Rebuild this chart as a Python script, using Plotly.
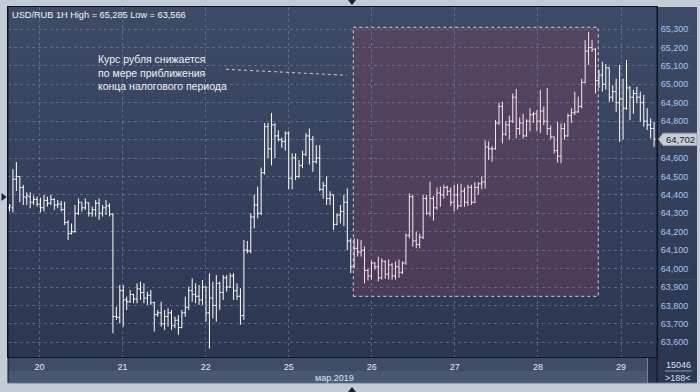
import plotly.graph_objects as go

# ---------------- data ----------------
title_text = "USD/RUB 1H High = 65,285 Low = 63,566"
day_labels = ["20", "21", "22", "25", "26", "27", "28", "29"]
month_label = "мар.2019"
note_lines = ["Курс рубля снижается", "по мере приближения", "конца налогового периода"]
last_price = 64702
last_price_label = "64,702"
price_ticks = list(range(63600, 65301, 100))
footer_top = "15046"
footer_bottom = ">188<"

opens = [
    64330, 64330, 64485, 64500, 64440, 64385, 64390, 64360, 64375, 64350,
    64330, 64370, 64355, 64375, 64345, 64350, 64320, 64250, 64190, 64200,
    64300, 64360, 64330, 64355, 64300, 64320, 64355, 64300, 64330, 64340,
    64295, 63740, 63735, 63880, 63830, 63820, 63860, 63835, 63890, 63870,
    63840, 63855, 63815, 63750, 63760, 63700, 63740, 63760, 63690, 63720,
    63680, 63760, 63790, 63880, 63860, 63850, 63830, 63900, 63760, 63840,
    63800, 63920, 63870, 63950, 63900, 63960, 63880, 63850, 63745, 64100,
    64095, 64280, 64345, 64300, 64520, 64770, 64650, 64780, 64720, 64700,
    64690, 64735, 64490, 64600, 64500, 64560, 64620, 64720, 64700, 64580,
    64600, 64430, 64450, 64380, 64400, 64240, 64290, 64310, 64360, 64150,
    64010, 64110, 64090, 64100, 63990, 63960, 64030, 64010, 63950, 64040,
    63970, 64020, 63960, 64010, 63980, 64030, 64180, 64390, 64150, 64130,
    64170, 64380, 64300, 64380, 64330, 64410, 64400, 64440, 64420, 64360,
    64400, 64340, 64420, 64360, 64440, 64360, 64440, 64460, 64470, 64660,
    64650, 64650, 64790, 64880, 64730, 64780, 64800, 64930, 64760, 64790,
    64720, 64800, 64835, 64840, 64800, 64855, 64800, 64760, 64715, 64640,
    64610, 64760, 64720, 64830, 64845, 64850, 64880, 65010, 65180, 65200,
    65190, 65020, 65050, 65000, 65090, 64930, 64960, 64900, 64920, 64870,
    64980, 64930, 64950, 64930, 64900, 64800, 64780, 64760,
]
highs = [
    64350, 64540, 64578, 64500, 64454, 64414, 64414, 64396, 64390, 64385,
    64400, 64390, 64400, 64381, 64372, 64367, 64363, 64263, 64245, 64345,
    64381, 64360, 64381, 64360, 64336, 64372, 64381, 64345, 64372, 64354,
    64300, 63793, 63911, 63911, 63848, 63884, 63862, 63920, 63929, 63920,
    63875, 63884, 63820, 63775, 63820, 63775, 63785, 63775, 63739, 63748,
    63775, 63848, 63902, 63947, 63920, 63911, 63938, 63905, 63974, 63929,
    63965, 63930, 63965, 63965, 63975, 63975, 63920, 63893, 64155, 64150,
    64300, 64400, 64445, 64548, 64790, 64790, 64845, 64790, 64750, 64710,
    64745, 64745, 64625, 64625, 64590, 64640, 64735, 64760, 64720, 64670,
    64670, 64470, 64500, 64420, 64400, 64300, 64345, 64400, 64435, 64165,
    64165, 64160, 64155, 64120, 64000, 64045, 64035, 64065, 64055, 64045,
    64050, 64030, 64040, 64050, 64040, 64191, 64408, 64400, 64200, 64190,
    64399, 64400, 64472, 64395, 64440, 64445, 64455, 64450, 64440, 64455,
    64460, 64460, 64440, 64455, 64455, 64470, 64470, 64500, 64697, 64690,
    64665, 64806, 64900, 64905, 64800, 64830, 64950, 64975, 64820, 64840,
    64810, 64870, 64850, 64860, 64970, 64880, 64980, 64775, 64716, 64797,
    64788, 64790, 64842, 64870, 64960, 64933, 65030, 65240, 65285, 65240,
    65195, 65080, 65122, 65110, 65090, 64995, 65030, 65105, 65030, 65132,
    64990, 64970, 64987, 64960, 64942, 64870, 64815, 64797,
]
lows = [
    64310, 64305, 64421, 64360, 64345, 64345, 64327, 64345, 64336, 64305,
    64310, 64336, 64345, 64318, 64327, 64309, 64236, 64155, 64185, 64195,
    64291, 64309, 64318, 64282, 64282, 64282, 64264, 64282, 64291, 64282,
    63649, 63721, 63703, 63685, 63775, 63815, 63812, 63812, 63830, 63812,
    63803, 63803, 63658, 63739, 63685, 63667, 63685, 63667, 63676, 63640,
    63676, 63739, 63775, 63820, 63812, 63803, 63803, 63712, 63566, 63730,
    63712, 63775, 63830, 63875, 63895, 63830, 63830, 63695, 63721, 64083,
    64083, 64218, 64273, 64290, 64510, 64600, 64560, 64600, 64690, 64655,
    64640, 64430, 64430, 64480, 64490, 64545, 64610, 64565, 64525, 64570,
    64420, 64380, 64345, 64345, 64210, 64235, 64245, 64230, 64100, 63975,
    64000, 64065, 64065, 63920, 63935, 63940, 63995, 63930, 63940, 63945,
    63940, 63940, 63940, 63950, 63970, 64020, 64164, 64119, 64110, 64110,
    64160, 64290, 64282, 64260, 64320, 64335, 64380, 64395, 64340, 64310,
    64320, 64335, 64335, 64340, 64345, 64355, 64400, 64430, 64435, 64590,
    64580, 64645, 64780, 64680, 64720, 64700, 64790, 64707, 64725, 64705,
    64715, 64745, 64790, 64745, 64735, 64780, 64725, 64700, 64625, 64575,
    64571, 64700, 64715, 64790, 64833, 64845, 64870, 65005, 65105, 65175,
    64950, 64980, 64960, 64970, 64906, 64905, 64850, 64689, 64700, 64861,
    64806, 64840, 64897, 64797, 64770, 64752, 64707, 64660,
]
closes = [
    64340, 64485, 64500, 64440, 64390, 64395, 64360, 64375, 64350, 64330,
    64370, 64355, 64375, 64345, 64350, 64320, 64250, 64190, 64200, 64300,
    64360, 64330, 64360, 64300, 64320, 64355, 64300, 64330, 64340, 64295,
    63740, 63735, 63880, 63830, 63820, 63860, 63835, 63890, 63870, 63840,
    63855, 63815, 63750, 63760, 63700, 63740, 63760, 63690, 63720, 63680,
    63760, 63790, 63880, 63860, 63850, 63830, 63900, 63760, 63840, 63800,
    63920, 63870, 63950, 63900, 63960, 63880, 63850, 63745, 64100, 64095,
    64280, 64345, 64300, 64520, 64770, 64650, 64780, 64720, 64700, 64690,
    64735, 64490, 64600, 64500, 64560, 64620, 64720, 64700, 64580, 64600,
    64430, 64450, 64380, 64400, 64240, 64290, 64310, 64360, 64150, 64010,
    64110, 64090, 64100, 63990, 63960, 64030, 64010, 63950, 64040, 63970,
    64020, 63960, 64010, 63980, 64030, 64180, 64390, 64150, 64130, 64170,
    64380, 64300, 64380, 64330, 64410, 64400, 64440, 64420, 64360, 64400,
    64340, 64420, 64360, 64440, 64360, 64440, 64460, 64470, 64660, 64650,
    64650, 64790, 64880, 64730, 64780, 64800, 64930, 64760, 64790, 64720,
    64800, 64835, 64840, 64800, 64855, 64800, 64760, 64715, 64640, 64610,
    64760, 64720, 64830, 64845, 64850, 64880, 65010, 65180, 65200, 65190,
    65020, 65050, 65000, 65090, 64930, 64960, 64900, 64920, 64870, 64980,
    64930, 64950, 64930, 64900, 64800, 64780, 64760, 64702,
]

# ---------------- layout geometry (pixels) ----------------
W, H = 700, 392
PL, PR, PT, PB = 8, 657, 7, 357          # plot area
BAR0_PX, BAR_STEP = 9.5, 3.447            # pixel of first bar, bar spacing
FIRST_DAY_BAR, BARS_PER_DAY = 8.7, 24.1   # day grid positions (in bars)
V_REF, Y_REF, PX_PER_100 = 65300, 29.0, 18.43


def px(x):
    return (x - PL) / (PR - PL)


def py(y):
    return (PB - y) / (PB - PT)


def bar_of_px(p):
    return (p - BAR0_PX) / BAR_STEP


def val_of_py(y):
    return V_REF - (y - Y_REF) * 100.0 / PX_PER_100


def py_of_val(v):
    return Y_REF + (V_REF - v) * PX_PER_100 / 100.0


n = len(opens)
idx = list(range(n))
HL_X0, HL_X1, HL_Y0, HL_Y1 = 353.3, 598.3, 27.3, 296.3
inside = [i for i in idx if HL_X0 <= BAR0_PX + BAR_STEP * i <= HL_X1]
outside = [i for i in idx if i not in inside]

FONT = "Liberation Sans, Arial, sans-serif"


def ohlc(sel, color):
    return go.Ohlc(
        x=sel,
        open=[opens[i] for i in sel],
        high=[highs[i] for i in sel],
        low=[lows[i] for i in sel],
        close=[closes[i] for i in sel],
        increasing=dict(line=dict(color=color, width=1)),
        decreasing=dict(line=dict(color=color, width=1)),
        tickwidth=0.45,
        hoverinfo="skip",
        showlegend=False,
    )


fig = go.Figure([ohlc(outside, "#ffffff"), ohlc(inside, "#ffe4ec")])

shapes = []


def rect(x0, y0, x1, y1, color, layer="below"):
    shapes.append(dict(type="rect", xref="paper", yref="paper",
                       x0=px(x0), x1=px(x1), y0=py(y1), y1=py(y0),
                       fillcolor=color, line=dict(width=0), layer=layer))


def line(x0, y0, x1, y1, color, width=1, dash="solid", layer="above"):
    shapes.append(dict(type="line", xref="paper", yref="paper",
                       x0=px(x0), x1=px(x1), y0=py(y0), y1=py(y1),
                       line=dict(color=color, width=width, dash=dash), layer=layer))


def tri(points, color):
    path = "M " + " L ".join(f"{px(a):.5f},{py(b):.5f}" for a, b in points) + " Z"
    shapes.append(dict(type="path", xref="paper", yref="paper", path=path,
                       fillcolor=color, line=dict(width=0), layer="above"))


# vertical gradient of the dark chart background (plot + right scale)
top_c, bot_c = (62, 75, 103), (44, 55, 82)
bands = 36
for k in range(bands):
    y0 = PT + (PB - PT) * k / bands
    y1 = PT + (PB - PT) * (k + 1) / bands + 0.6
    t = (k + 0.5) / bands
    c = tuple(round(top_c[j] + (bot_c[j] - top_c[j]) * t) for j in range(3))
    rect(PL, y0, 697, y1, f"rgb{c}")
# right scale below the plot
rect(657, PB, 697, 383, "rgb(43,54,80)")
# time-axis band
rect(PL, PB, 647, 371, "rgb(62,76,104)")
rect(PL, 371, 647, 383, "rgb(74,87,115)")
rect(647, PB, 657, 383, "rgb(40,50,75)")
line(647.5, PB, 647.5, 383, "rgb(120,132,158)", layer="below")
# highlighted period
shapes.append(dict(type="rect", xref="paper", yref="paper",
                   x0=px(HL_X0), x1=px(HL_X1), y0=py(HL_Y1), y1=py(HL_Y0),
                   fillcolor="rgba(139,62,93,0.30)",
                   line=dict(color="rgba(240,225,235,0.9)", width=1, dash="dot"),
                   layer="below"))
# frame lines
line(657, PT, 657, 383, "#0c1322")
line(PL, PT, PL, 383, "#0c1322")
line(PL, 383, 697, 383, "#6b7892")
# connector from note to the period
line(226, 69.3, 346.7, 75.3, "rgba(215,220,230,0.9)", dash="dot")
# footer separator
line(665, 371, 692, 371, "rgb(140,156,185)")
# last price tag
tag_y = py_of_val(last_price)
tag_path_pts = [(658.5, tag_y), (663, tag_y - 6), (697, tag_y - 6), (697, tag_y + 6.2), (663, tag_y + 6.2)]
path = "M " + " L ".join(f"{px(a):.5f},{py(b):.5f}" for a, b in tag_path_pts) + " Z"
shapes.append(dict(type="path", xref="paper", yref="paper", path=path,
                   fillcolor="#c9cdd6", line=dict(color="#9aa2b2", width=1), layer="above"))
# small position markers on the outer frame
tri([(348, 0), (356, 0), (352, 5)], "#1b2436")
tri([(348, 392), (356, 392), (352, 387)], "#1b2436")
tri([(1.5, 193), (1.5, 201), (6.5, 197)], "#1b2436")

annotations = [
    dict(text=title_text, xref="paper", yref="paper", x=px(10), y=py(15.5),
         xanchor="left", yanchor="middle", showarrow=False,
         font=dict(family=FONT, size=9.2, color="#f2f5fa")),
    dict(text="<br>".join(note_lines), xref="paper", yref="paper",
         x=px(96), y=py(72.5), xanchor="left", yanchor="middle", align="left",
         showarrow=False, font=dict(family=FONT, size=10.5, color="#eef2f8")),
    dict(text=month_label, xref="paper", yref="paper", x=px(334), y=py(377.5),
         xanchor="center", yanchor="middle", showarrow=False,
         font=dict(family=FONT, size=9, color="#dfe6f2")),
    dict(text=last_price_label, xref="paper", yref="paper", x=px(680), y=py(tag_y + 0.2),
         xanchor="center", yanchor="middle", showarrow=False,
         font=dict(family=FONT, size=9.5, color="#1a2030")),
    dict(text=footer_top, xref="paper", yref="paper", x=px(678.5), y=py(364.5),
         xanchor="center", yanchor="middle", showarrow=False,
         font=dict(family=FONT, size=9, color="#d6e2f4")),
    dict(text=footer_bottom, xref="paper", yref="paper", x=px(678.5), y=py(378),
         xanchor="center", yanchor="middle", showarrow=False,
         font=dict(family=FONT, size=9, color="#d6e2f4")),
]

tick_pos = [FIRST_DAY_BAR + BARS_PER_DAY * k for k in range(len(day_labels))]
# price labels; the one hidden behind the last-price tag is left blank
price_text = ["" if abs(v - last_price) < 50 else f"{v:,d}" for v in price_ticks]
grid_c = "rgba(125,140,172,0.55)"

fig.update_layout(
    width=W, height=H,
    margin=dict(l=PL, r=W - PR, t=PT, b=H - PB, pad=0),
    paper_bgcolor="#c3cbd8",
    plot_bgcolor="rgb(53,65,92)",
    hovermode=False,
    showlegend=False,
    shapes=shapes,
    annotations=annotations,
    xaxis=dict(
        range=[bar_of_px(PL), bar_of_px(PR)],
        tickvals=tick_pos, ticktext=day_labels,
        showgrid=True, gridcolor=grid_c, gridwidth=1, griddash="dot",
        zeroline=False, showline=True, linecolor="#0c1322", linewidth=1, mirror=True,
        ticks="outside", ticklen=1, tickcolor="rgba(0,0,0,0)",
        tickfont=dict(family=FONT, size=9, color="#e4ebf7"),
        rangeslider=dict(visible=False), fixedrange=True,
    ),
    yaxis=dict(
        side="right",
        range=[val_of_py(PB), val_of_py(PT)],
        tickvals=price_ticks, ticktext=price_text,
        showgrid=True, gridcolor=grid_c, gridwidth=1, griddash="dot",
        zeroline=False, showline=True, linecolor="#0c1322", linewidth=1, mirror=True,
        ticks="outside", ticklen=1, tickcolor="rgba(0,0,0,0)",
        tickfont=dict(family=FONT, size=9, color="#a9c6ee"),
        fixedrange=True,
    ),
)

fig.write_html("out.html")
